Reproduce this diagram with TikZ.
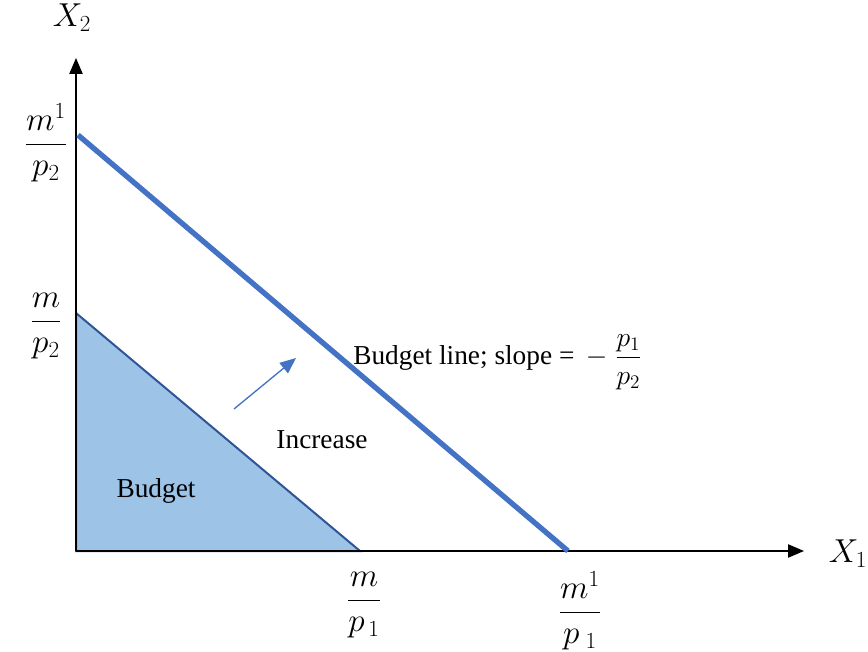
\documentclass[tikz,border=0pt]{standalone}
\usepackage{amsmath}
\usepackage{fontspec}
\setmainfont{Liberation Serif}
\usetikzlibrary{arrows.meta}
\definecolor{bline}{HTML}{4472C4}
\definecolor{bfill}{HTML}{9DC3E6}
\definecolor{bedge}{HTML}{2F5597}
\newcommand{\fr}[2]{\dfrac{\rule[-3pt]{0pt}{15pt}#1}{\rule{0pt}{17pt}#2}}
\tikzset{
  axis/.style={draw=black, line width=1pt, -{Triangle[length=12pt,width=10pt]}},
  lbl/.style={font=\fontsize{20.5}{24}\selectfont, inner sep=0pt},
  mlbl/.style={font=\fontsize{23}{27}\selectfont, inner sep=0pt},
}
\begin{document}
\begin{tikzpicture}[x=0.75pt,y=-0.75pt]
\useasboundingbox (0,0) rectangle (868,652);
\coordinate (O) at (76,551);
\coordinate (ytip) at (76,58);
\coordinate (xtip) at (804,551);
\coordinate (bigY) at (78,135);
\coordinate (bigX) at (568,551);
\coordinate (smY) at (76,313);
\coordinate (smX) at (360,551);
\coordinate (ar1) at (234,409);
\coordinate (ar2) at (296,358);
% triangle
\filldraw[fill=bfill, draw=bedge, line width=1.5pt, line join=miter] (O) -- (smY) -- (smX) -- cycle;
% axes
\draw[axis] (O) -- (ytip);
\draw[axis] (O) -- (xtip);
% big budget line
\draw[bline, line width=4pt] (bigY) -- (bigX);
% increase arrow
\draw[bline, line width=1pt, -{Triangle[length=12pt,width=10pt]}] (ar1) -- (ar2);
% labels
\node[mlbl] (x2) at (72,18) {$X_2$};
\node[mlbl] (x1) at (848,554) {$X_1$};
\node[mlbl] (m1p2) at (46,143) {$\fr{m^1}{p_2}$};
\node[mlbl] (mp2) at (46,325) {$\fr{m}{p_2}$};
\node[mlbl] (mp1) at (364,604) {$\fr{m}{p_{\,1}}$};
\node[mlbl] (m1p1) at (580,611) {$\fr{m^1}{p_{\;1}}$};
\node[lbl, anchor=west] (slope) at (353,360) {Budget line; slope = \,$-\;\fr{p_1}{p_2}$};
\node[lbl] (budget) at (156,491) {Budget};
\node[lbl] (incr) at (322,440) {Increase};
\end{tikzpicture}
\end{document}
